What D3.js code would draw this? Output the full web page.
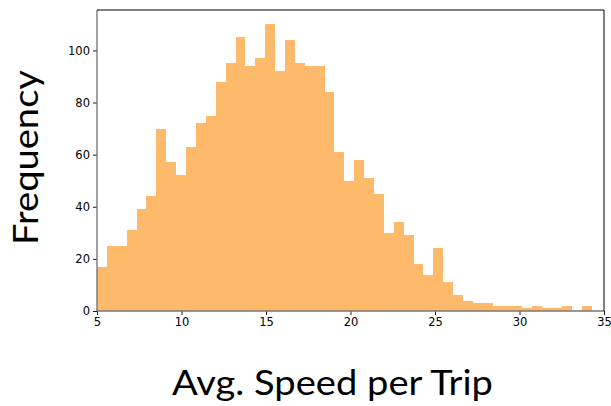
<!DOCTYPE html>
<html>
<head>
<meta charset="utf-8">
<script src="https://cdn.jsdelivr.net/npm/d3@7"></script>
<style>
  body { margin: 0; background: #fff; }
  svg { display: block; }
  .tick text { font-family: "DejaVu Sans", sans-serif; font-size: 11.5px; fill: #000; }
  .axis-label { font-family: Lato, "Open Sans", sans-serif; fill: #000; }
</style>
</head>
<body>
<svg id="chart" width="611" height="406"></svg>
<script>
// histogram: 50 bins from 5.0 to ~34.27
const binStart = 5.0;
const binWidth = 0.5854;
const counts = [
  17, 25, 25, 31, 39, 44, 70, 57, 52, 63,
  72, 75, 88, 95, 105, 94, 97, 110, 92, 104,
  95, 94, 94, 84, 61, 50, 58, 51, 45, 30,
  34, 29, 18, 14, 24, 11, 6, 4, 3, 3,
  2, 2, 2, 1, 2, 1, 1, 2, 0, 2
];
const xTicks = [5, 10, 15, 20, 25, 30, 35];
const yTicks = [0, 20, 40, 60, 80, 100];

const bins = counts.map((c, i) => ({ x0: binStart + i * binWidth, x1: binStart + (i + 1) * binWidth, n: c }));

const margin = { left: 97, right: 7, top: 10, bottom: 95 };
const W = 611, H = 406;
const svg = d3.select('#chart');

const x = d3.scaleLinear().domain([5, 35]).range([margin.left, W - margin.right]);
const y = d3.scaleLinear().domain([0, 115.5]).range([H - margin.bottom, margin.top]);

// bars
svg.append('g')
  .attr('shape-rendering', 'crispEdges')
  .selectAll('rect')
  .data(bins)
  .join('rect')
  .attr('x', d => x(d.x0))
  .attr('width', d => x(d.x1) - x(d.x0))
  .attr('y', d => y(d.n))
  .attr('height', d => y(0) - y(d.n))
  .attr('fill', '#feba6a');

// axes
const xAxis = svg.append('g')
  .attr('transform', `translate(0,${y(0)})`)
  .call(d3.axisBottom(x).tickValues(xTicks).tickFormat(d3.format('d')).tickSize(4).tickPadding(3));
const yAxis = svg.append('g')
  .attr('transform', `translate(${x(5)},0)`)
  .call(d3.axisLeft(y).tickValues(yTicks).tickFormat(d3.format('d')).tickSize(4).tickPadding(3));
[xAxis, yAxis].forEach(a => {
  a.select('.domain').remove();
  a.selectAll('.tick line').attr('stroke', '#000').attr('stroke-width', 0.9);
});

// frame: left/bottom gray, top/right black
const x0 = x(5), x1 = x(35), y0 = y(0), y1 = margin.top;
svg.append('line').attr('x1', x0).attr('x2', x0).attr('y1', y1).attr('y2', y0)
  .attr('stroke', '#777').attr('stroke-width', 1.4);
svg.append('line').attr('x1', x0).attr('x2', x1).attr('y1', y0).attr('y2', y0)
  .attr('stroke', '#777').attr('stroke-width', 1.4);
svg.append('line').attr('x1', x0).attr('x2', x1).attr('y1', y1).attr('y2', y1)
  .attr('stroke', '#000').attr('stroke-width', 1);
svg.append('line').attr('x1', x1).attr('x2', x1).attr('y1', y1).attr('y2', y0)
  .attr('stroke', '#000').attr('stroke-width', 1);

// labels
svg.append('text')
  .attr('class', 'axis-label')
  .attr('x', 172).attr('y', 395)
  .attr('font-size', 35)
  .attr('textLength', 321)
  .attr('lengthAdjust', 'spacingAndGlyphs')
  .text('Avg. Speed per Trip');

svg.append('text')
  .attr('class', 'axis-label')
  .attr('transform', 'translate(38,245) rotate(-90)')
  .attr('font-size', 35)
  .attr('textLength', 175)
  .attr('lengthAdjust', 'spacingAndGlyphs')
  .text('Frequency');
</script>
</body>
</html>
